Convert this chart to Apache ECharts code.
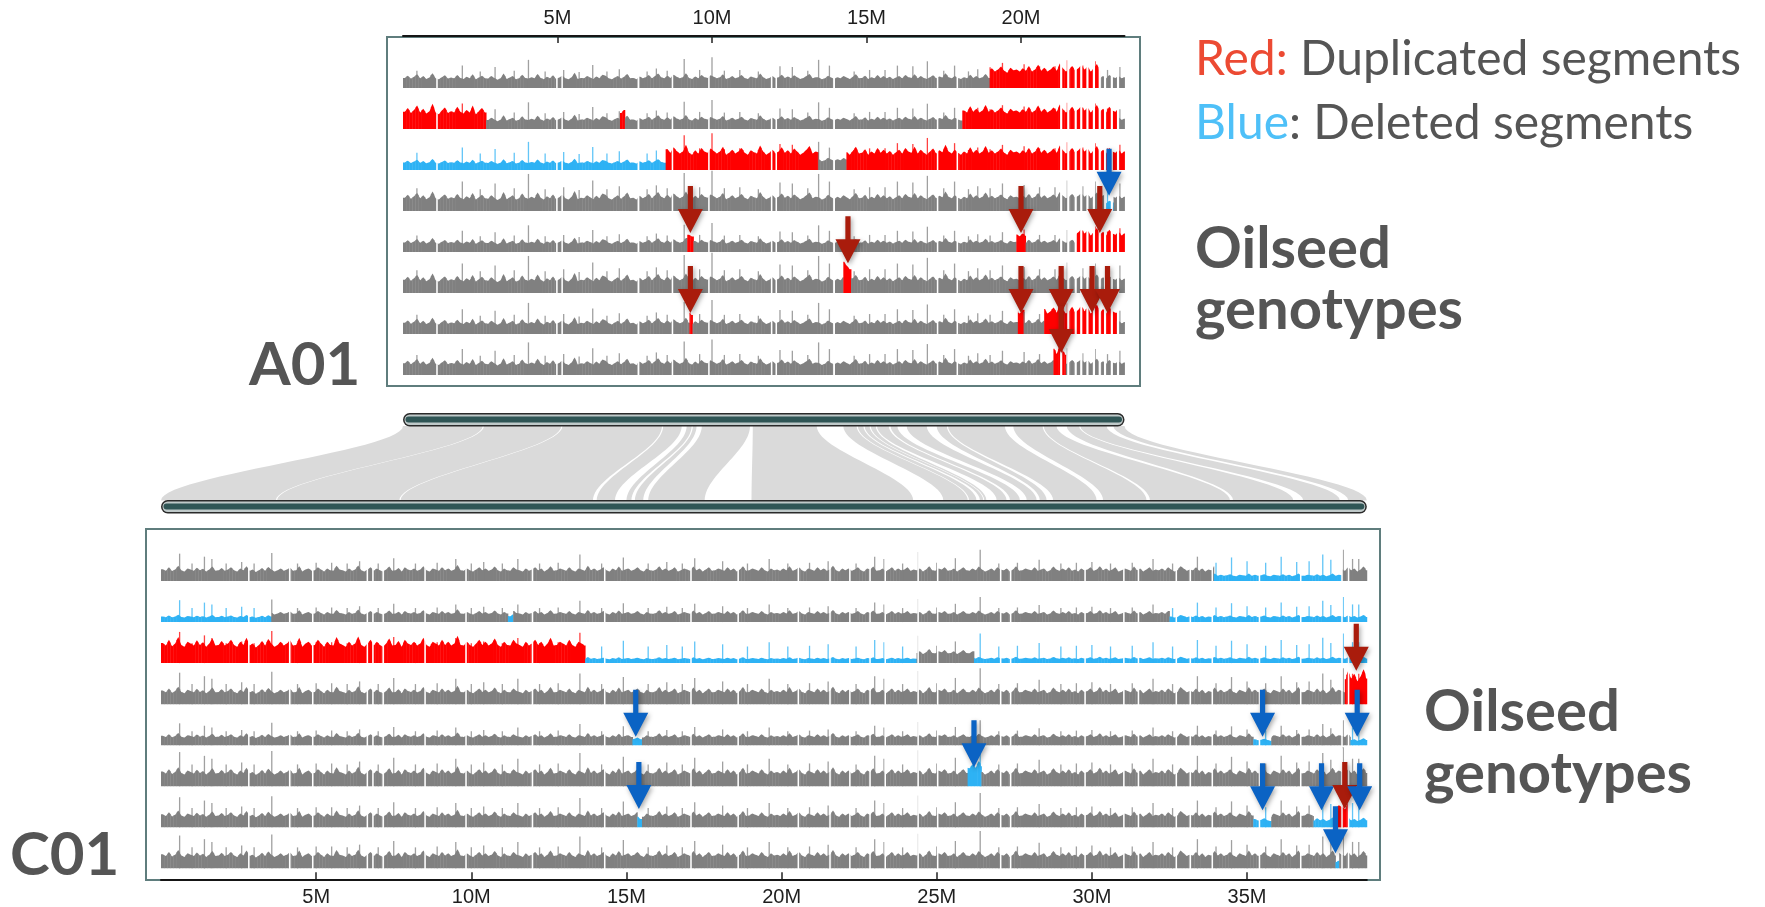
<!DOCTYPE html>
<html>
<head>
<meta charset="utf-8">
<script src="https://cdn.jsdelivr.net/npm/echarts@6/dist/echarts.min.js"></script>
<style>
  html, body { margin: 0; padding: 0; background: #ffffff; }
  #chart { width: 1765px; height: 907px; }
</style>
</head>
<body>
<div id="chart"></div>
<script>
// Chromosome lengths in Mb and bin size of the coverage profiles
const A01_LEN = 23.35;
const C01_LEN = 38.86;
const BIN = 0.1;

const A01_TICKS = [5, 10, 15, 20];
const C01_TICKS = [5, 10, 15, 20, 25, 30, 35];

// Read-depth profile along A01 (one value per 0.1 Mb bin)
const A01_PROFILE = [
  28,34,26,31,38,27,33,25,29,41,27,24,30,35,26,29,27,36,28,25,
  31,27,38,24,29,34,27,26,33,28,23,27,40,25,29,33,24,27,37,28,
  26,30,27,39,28,24,31,27,35,25,29,34,27,24,30,42,25,28,27,33,
  29,25,32,27,37,34,27,24,29,33,26,31,39,27,28,24,32,27,30,36,
  27,33,40,30,27,34,28,37,31,27,30,41,28,25,32,27,36,30,28,35,
  31,27,30,38,25,28,33,27,30,36,28,25,32,29,27,40,30,25,28,33,
  27,30,37,28,32,27,35,30,25,28,33,39,27,30,29,24,27,34,29,25,
  30,27,33,29,25,31,38,27,28,34,25,30,27,36,28,33,27,31,25,29,
  33,27,36,30,28,38,27,33,28,25,30,35,27,32,29,41,30,27,33,28,
  25,30,27,37,28,33,27,30,39,28,32,27,30,35,28,25,33,29,30,27,
  32,28,36,27,30,38,28,33,27,30,35,28,40,32,27,30,36,28,32,37,
  30,35,27,32,39,28,33,27,36,30,28,33,27,30
];

// Read-depth profile along C01 (one value per 0.1 Mb bin)
const C01_PROFILE = [
  31,27,36,26,30,40,28,25,33,30,27,35,28,32,25,30,38,27,28,34,
  27,30,36,28,25,33,28,39,27,30,24,28,34,27,37,30,25,28,33,27,
  30,35,27,28,39,25,30,33,27,28,36,30,25,33,28,27,40,30,28,25,
  33,27,30,41,28,25,30,36,27,33,28,25,30,38,27,28,34,25,36,30,
  28,33,27,30,39,28,25,33,30,27,36,28,33,27,30,42,28,27,33,28,
  25,30,36,28,33,27,30,38,28,25,33,28,27,36,30,28,25,33,27,30,
  36,28,33,25,30,39,27,28,33,30,27,36,28,25,33,30,27,40,28,33,
  27,30,36,28,25,33,28,38,27,30,33,27,30,36,28,25,33,28,27,30,
  39,28,33,27,30,36,25,28,33,30,27,38,28,33,25,30,36,27,28,33,
  30,27,36,28,33,25,30,39,27,28,33,30,27,36,28,25,33,28,30,27,
  33,28,39,27,30,36,28,25,33,30,27,36,28,33,27,30,40,28,25,33,
  28,33,27,30,36,28,25,33,30,38,27,28,33,25,30,36,27,33,28,30,
  36,27,30,28,33,25,30,39,28,27,33,30,36,27,28,33,25,30,36,28,
  27,33,28,38,30,25,28,33,27,36,30,28,33,25,30,39,27,28,33,30,
  28,36,27,30,33,25,28,38,30,27,33,28,36,27,30,25,33,28,30,36,
  27,30,39,28,33,27,30,36,25,28,33,30,27,38,28,33,25,30,36,27,
  30,28,33,27,36,30,25,28,39,33,27,30,28,36,27,33,25,30,28,38,
  28,33,27,30,36,28,25,33,30,27,39,28,33,27,30,36,28,25,33,30,
  27,36,28,33,25,30,39,27,28,33,30,27,36,28,33,25,30,39,28,33,
  30,27,36,28,33,25,30,38,28
];

// Repeat peaks shared by all samples: [position Mb, depth]
const A01_SPIKES = [
  [0.45,48],[1.92,62],[2.5,46],[2.98,58],[3.6,48],[4.06,78],[4.6,46],[5.2,50],[5.7,44],
  [6.14,64],[6.6,46],[7.0,52],[7.9,46],[8.2,54],[8.55,48],[9.1,80],[9.6,50],[10.0,85],
  [10.4,48],[10.9,50],[11.5,46],[12.2,60],[12.6,58],[13.1,48],[13.45,78],[13.8,62],
  [14.6,46],[15.1,50],[15.6,50],[16.0,62],[16.5,60],[16.97,74],[17.5,48],[17.85,62],
  [18.3,46],[18.6,52],[19.0,48],[19.4,58],[20.1,55],[20.6,50],[21.1,50],[21.5,64],
  [22.0,52],[22.4,62],[22.8,50],[23.2,58]
];
const C01_SPIKES = [
  [0.6,72],[1.0,46],[1.4,64],[1.64,58],[2.1,46],[2.6,50],[3.0,46],[3.57,74],[4.4,46],
  [5.0,48],[5.5,48],[6.0,46],[6.4,52],[7.0,46],[7.5,60],[8.2,46],[8.9,48],[9.5,58],
  [10.0,46],[10.4,50],[11.0,46],[11.5,58],[12.2,46],[12.8,48],[13.5,70],[14.2,46],
  [14.9,62],[15.7,46],[16.3,50],[16.8,46],[17.2,60],[18.1,52],[18.9,46],[19.6,58],
  [20.2,46],[20.9,48],[21.5,52],[22.4,46],[23.0,64],[23.3,58],[23.9,46],[24.4,76],
  [25.0,48],[25.6,60],[26.4,82],[27.0,46],[27.6,48],[28.3,56],[29.0,46],[29.5,48],
  [30.0,50],[30.6,46],[31.3,48],[31.97,58],[32.6,46],[33.4,64],[34.0,48],[34.5,62],
  [35.0,52],[35.6,48],[36.1,64],[36.6,50],[37.0,52],[37.44,70],[37.7,56],[38.1,82],
  [38.4,58],[38.6,58]
];

// Assembly gaps: [position Mb, width Mb]
const A01_GAPS = [
  [1.1,.05],[4.98,.05],[5.15,.05],[7.62,.06],[8.72,.05],[9.9,.05],[11.93,.05],[12.08,.05],
  [13.95,.06],[17.3,.05],[17.94,.05],[21.3,.07],[21.53,.07],[21.77,.07],[21.95,.07],
  [22.15,.07],[22.36,.07],[22.55,.07],[22.72,.07],[22.94,.07],[23.14,.07]
];
const C01_GAPS = [
  [2.83,.05],[4.15,.05],[4.89,.05],[6.65,.05],[6.83,.05],[7.16,.05],[8.51,.05],[9.83,.05],
  [11.97,.05],[14.3,.05],[17.08,.05],[18.6,.05],[20.54,.05],[21.56,.05],[22.2,.05],
  [22.85,.05],[23.34,.05],[24.4,.05],[25.03,.05],[27.06,.05],[27.38,.05],[29.78,.05],
  [31.03,.05],[31.5,.05],[32.72,.05],[33.17,.05],[33.88,.05],[35.4,.05],[36.73,.05],
  [38.06,.05],[38.27,.05]
];

// Relative depth of each of the 8 genotypes
const A01_GAIN = [0.95, 0.9, 0.95, 1.25, 0.9, 1.25, 1.05, 1.1];
const C01_GAIN = [1.0, 0.8, 0.95, 1.15, 0.8, 1.25, 1.1, 1.2];

// Copy-number segments: [genotype, start Mb, end Mb, kind (1 duplicated, 2 deleted), depth ratio]
const A01_SEGMENTS = [
  [0, 19.0, 22.55, 1, 1.7],
  [1, 0.0, 2.69, 1, 1.8],
  [1, 7.02, 7.18, 1, 1.8],
  [1, 18.1, 23.15, 1, 1.8],
  [2, 0.0, 8.5, 2, 0.75],
  [2, 8.5, 13.45, 1, 1.7],
  [2, 14.35, 23.35, 1, 1.7],
  [3, 22.7, 23.0, 2, 0.6],
  [4, 9.2, 9.4, 1, 1.8],
  [4, 19.85, 20.15, 1, 1.7],
  [4, 21.75, 23.35, 1, 1.8],
  [5, 14.25, 14.5, 1, 2.0],
  [6, 9.27, 9.37, 1, 1.9],
  [6, 19.9, 20.1, 1, 1.9],
  [6, 20.75, 23.1, 1, 1.9],
  [7, 21.05, 21.45, 1, 1.8]
];
const C01_SEGMENTS = [
  [0, 33.93, 38.06, 2, 0.5],
  [1, 0.0, 3.57, 2, 0.6],
  [1, 11.18, 11.35, 2, 0.7],
  [1, 32.5, 38.86, 2, 0.6],
  [2, 0.0, 13.67, 1, 1.8],
  [2, 13.67, 24.35, 2, 0.42],
  [2, 26.2, 38.86, 2, 0.45],
  [3, 38.15, 38.86, 1, 2.1],
  [4, 15.2, 15.5, 2, 0.7],
  [4, 35.2, 35.78, 2, 0.6],
  [4, 38.33, 38.86, 2, 0.6],
  [5, 26.0, 26.44, 2, 1.4],
  [6, 15.35, 15.5, 2, 0.7],
  [6, 35.2, 35.78, 2, 0.6],
  [6, 37.14, 37.88, 2, 0.6],
  [6, 37.88, 38.27, 1, 1.6],
  [6, 38.27, 38.86, 2, 0.6],
  [7, 37.85, 37.97, 2, 0.5]
];

// Highlighted events: [genotype, position Mb, kind, arrow tip depth]
const A01_ARROWS = [
  [3, 22.85, 2, 40],
  [4, 9.3, 1, 50], [4, 20.0, 1, 50], [4, 22.55, 1, 50],
  [5, 14.4, 1, 78],
  [6, 9.3, 1, 55], [6, 20.0, 1, 55], [6, 21.3, 1, 55], [6, 22.3, 1, 55], [6, 22.8, 1, 55],
  [7, 21.3, 1, 58]
];
const C01_ARROWS = [
  [3, 38.52, 1, 88],
  [4, 15.3, 2, 22], [4, 35.5, 2, 22], [4, 38.55, 2, 22],
  [5, 26.2, 2, 50],
  [6, 15.4, 2, 48], [6, 35.5, 2, 45], [6, 37.4, 2, 45], [6, 38.15, 1, 48], [6, 38.63, 2, 45],
  [7, 37.85, 2, 40]
];

// Collinear blocks between A01 and C01: [A01 start, A01 end, C01 start, C01 end]
const SYNTENY = [
  [0.00, 2.58, 0.00, 3.70],
  [2.62, 5.12, 3.74, 7.68],
  [5.16, 8.38, 7.72, 13.92],
  [8.42, 9.02, 14.04, 14.63],
  [9.18, 9.34, 15.00, 15.16],
  [9.38, 9.50, 15.27, 15.54],
  [9.67, 11.23, 15.70, 17.52],
  [11.32, 13.39, 19.03, 24.24],
  [14.25, 14.68, 25.21, 26.00],
  [14.72, 14.90, 26.04, 26.28],
  [14.94, 15.10, 26.39, 26.50],
  [15.14, 15.30, 26.53, 26.60],
  [15.34, 15.72, 26.93, 27.25],
  [15.78, 16.00, 27.36, 27.68],
  [16.30, 16.95, 27.90, 28.22],
  [17.27, 17.60, 28.32, 28.54],
  [17.64, 19.48, 28.75, 30.15],
  [19.75, 20.70, 30.36, 31.76],
  [20.74, 21.15, 31.87, 34.45],
  [21.48, 21.88, 34.55, 36.49],
  [21.92, 22.77, 36.81, 37.99],
  [22.99, 23.35, 38.26, 38.86]
];

// ---------------------------------------------------------------------------
const FILL = ['#808080', '#ff0000', '#2eb2f4'];
const ARROW_FILL = { 1: '#a91c0c', 2: '#0b63c4' };
const TEXT_GREY = '#555555';

const LAYOUT_A = { left: 403, pxPerMb: 30.9, base0: 88, step: 41 };
const LAYOUT_C = { left: 161, pxPerMb: 31.03, base0: 581, step: 41.05 };
const TRACK_H = 38;

function segInfo(segs, t, x) {
  for (const s of segs) {
    if (s[0] === t && x >= s[1] && x < s[2]) return [s[3], s[4]];
  }
  return [0, 1];
}

// Split each bin at segment borders so colours follow the segments exactly.
// Item: [start, end, depth, kind, isPeak, previous depth, next depth]
function trackItems(profile, len, segs, spikes, gain, t) {
  const bounds = [];
  segs.forEach(s => { if (s[0] === t) bounds.push(s[1], s[2]); });
  const body = [];
  profile.forEach((val, i) => {
    const s = i * BIN;
    if (s >= len) return;
    const e = Math.min(len, s + BIN);
    const pts = [s].concat(bounds.filter(b => b > s && b < e).sort((a, b) => a - b), [e]);
    for (let j = 0; j < pts.length - 1; j++) {
      const info = segInfo(segs, t, (pts[j] + pts[j + 1]) / 2);
      body.push([pts[j], pts[j + 1], val * gain * info[1], info[0], 0]);
    }
  });
  body.forEach((it, k) => {
    const prev = k > 0 ? body[k - 1] : it;
    const next = k < body.length - 1 ? body[k + 1] : it;
    it.push(prev[3] === it[3] ? prev[2] : it[2], next[3] === it[3] ? next[2] : it[2]);
  });
  const peaks = spikes.map(sp => {
    const info = segInfo(segs, t, sp[0]);
    return [sp[0], sp[0], sp[1] * gain * (info[0] === 1 ? 1.2 : 1), info[0], 1, 0, 0];
  });
  return body.concat(peaks);
}

function renderBody(params, api) {
  const a = api.value(0), b = api.value(1), v = api.value(2);
  const kind = api.value(3), spike = api.value(4);
  const base = api.coord([a, 0]);
  const end = api.coord([b, v]);
  if (spike) {
    return {
      type: 'rect',
      shape: { x: base[0] - 0.65, y: end[1], width: 1.3, height: base[1] - end[1] },
      style: { fill: FILL[kind], opacity: 0.75 }
    };
  }
  const yL = api.coord([a, (api.value(5) + v) / 2])[1];
  const yR = api.coord([a, (api.value(6) + v) / 2])[1];
  const x0 = base[0], x1 = end[0] + 0.4;
  return {
    type: 'polygon',
    shape: { points: [[x0, base[1]], [x0, yL], [(x0 + x1) / 2, end[1]], [x1, yR], [x1, base[1]]] },
    style: { fill: FILL[kind] }
  };
}

function renderGap(params, api) {
  const pos = api.value(0), w = api.value(1);
  const p0 = api.coord([pos - w / 2, 0]);
  const p1 = api.coord([pos + w / 2, 100]);
  return {
    type: 'rect',
    shape: { x: p0[0], y: p1[1], width: Math.max(1.4, p1[0] - p0[0]), height: p0[1] - p1[1] + 1 },
    style: { fill: '#ffffff' }
  };
}

function renderArrow(params, api) {
  const p = api.coord([api.value(0), api.value(1)]);
  const x = p[0], y = p[1];
  const L = 47, HL = 24, HW = 12.5, SW = 2.6;
  return {
    type: 'polygon',
    shape: { points: [[x - SW, y - L], [x + SW, y - L], [x + SW, y - HL], [x + HW, y - HL],
                      [x, y], [x - HW, y - HL], [x - SW, y - HL]] },
    style: {
      fill: ARROW_FILL[api.value(2)],
      shadowBlur: 5, shadowColor: 'rgba(0,0,0,0.35)', shadowOffsetX: 1.5, shadowOffsetY: 2
    }
  };
}

const grids = [], xAxes = [], yAxes = [], series = [];

function addChromosome(lay, len, profile, segs, spikes, gaps, arrows, gains) {
  const width = len * lay.pxPerMb;
  for (let t = 0; t < 8; t++) {
    const gi = grids.length;
    const baseline = lay.base0 + lay.step * t;
    grids.push({ left: lay.left, top: baseline - TRACK_H, width: width, height: TRACK_H });
    xAxes.push({ type: 'value', gridIndex: gi, min: 0, max: len, show: false });
    yAxes.push({ type: 'value', gridIndex: gi, min: 0, max: 100, show: false });
    const common = { type: 'custom', xAxisIndex: gi, yAxisIndex: gi, silent: true, animation: false };
    series.push(Object.assign({}, common, {
      z: 2, renderItem: renderBody, data: trackItems(profile, len, segs, spikes, gains[t], t)
    }));
    series.push(Object.assign({}, common, {
      z: 3, renderItem: renderGap, data: gaps.map(g => [g[0], g[1]])
    }));
    series.push(Object.assign({}, common, {
      z: 10 + t, renderItem: renderArrow,
      data: arrows.filter(a => a[0] === t).map(a => [a[1], a[3], a[2]])
    }));
  }
  return width;
}

function addScaleAxis(lay, len, ticks, top, position) {
  const gi = grids.length;
  grids.push({ left: lay.left, top: top, width: len * lay.pxPerMb, height: 1 });
  xAxes.push({
    type: 'value', gridIndex: gi, min: 0, max: len, position: position,
    axisLine: { show: true, onZero: false, lineStyle: { color: '#151515', width: 2 } },
    axisTick: { show: true, inside: true, length: 7, customValues: ticks,
                lineStyle: { color: '#222222', width: 1.5 } },
    axisLabel: { show: true, customValues: ticks, formatter: v => v + 'M', margin: 8,
                 fontSize: 20, color: '#1e1e1e', fontFamily: 'Liberation Sans, Arial, sans-serif' },
    splitLine: { show: false }
  });
  yAxes.push({ type: 'value', gridIndex: gi, min: 0, max: 1, show: false });
  return gi;
}

addChromosome(LAYOUT_A, A01_LEN, A01_PROFILE, A01_SEGMENTS, A01_SPIKES, A01_GAPS, A01_ARROWS, A01_GAIN);
const A_AXIS = addScaleAxis(LAYOUT_A, A01_LEN, A01_TICKS, 36, 'top');
addChromosome(LAYOUT_C, C01_LEN, C01_PROFILE, C01_SEGMENTS, C01_SPIKES, C01_GAPS, C01_ARROWS, C01_GAIN);
const C_AXIS = addScaleAxis(LAYOUT_C, C01_LEN, C01_TICKS, 879, 'bottom');

const chart = echarts.init(document.getElementById('chart'), null, { renderer: 'canvas' });
chart.setOption({
  animation: false,
  backgroundColor: '#ffffff',
  grid: grids,
  xAxis: xAxes,
  yAxis: yAxes,
  series: series
});

// ---- chromosome bars, synteny ribbons, frames and labels -------------------
const ax = v => chart.convertToPixel({ xAxisIndex: A_AXIS }, v);
const cx = v => chart.convertToPixel({ xAxisIndex: C_AXIS }, v);

const A_BAR_Y = 413, C_BAR_Y = 500, BAR_H = 13.5;
const RIB_TOP = A_BAR_Y + BAR_H - 0.5, RIB_BOT = C_BAR_Y + 0.5;

function cubic(p0, p1, p2, p3, t) {
  const u = 1 - t;
  return u * u * u * p0 + 3 * u * u * t * p1 + 3 * u * t * t * p2 + t * t * t * p3;
}

function ribbon(a0, a1, c0, c1) {
  const pts = [], N = 28, d = (RIB_BOT - RIB_TOP) / 3;
  for (let i = 0; i <= N; i++) {
    const t = i / N;
    pts.push([cubic(a1, a1, c1, c1, t), cubic(RIB_TOP, RIB_TOP + d, RIB_BOT - d, RIB_BOT, t)]);
  }
  for (let i = 0; i <= N; i++) {
    const t = i / N;
    pts.push([cubic(c0, c0, a0, a0, t), cubic(RIB_BOT, RIB_BOT - d, RIB_TOP + d, RIB_TOP, t)]);
  }
  return pts;
}

function chromBar(x0, x1, y) {
  const w = x1 - x0;
  return [
    { type: 'rect', z: 5, shape: { x: x0, y: y, width: w, height: BAR_H, r: BAR_H / 2 },
      style: { fill: '#2a2a2a' } },
    { type: 'rect', z: 6, shape: { x: x0 + 1.5, y: y + 1.5, width: w - 3, height: BAR_H - 3, r: (BAR_H - 3) / 2 },
      style: { fill: '#bfc9c9' } },
    { type: 'rect', z: 7, shape: { x: x0 + 2.5, y: y + 3.5, width: w - 5, height: 6, r: 3 },
      style: { fill: '#2f5555' } }
  ];
}

const elements = [];
SYNTENY.forEach(b => {
  elements.push({
    type: 'polygon', z: 1, silent: true,
    shape: { points: ribbon(ax(b[0]), ax(b[1]), cx(b[2]), cx(b[3])) },
    style: { fill: '#dadada' }
  });
});
chromBar(ax(0), ax(A01_LEN), A_BAR_Y).forEach(e => elements.push(e));
chromBar(cx(0), cx(C01_LEN), C_BAR_Y).forEach(e => elements.push(e));

// panel frames
elements.push({ type: 'rect', z: 0, shape: { x: 387, y: 37, width: 753, height: 349 },
  style: { fill: 'none', stroke: '#5f7d7d', lineWidth: 2 } });
elements.push({ type: 'rect', z: 0, shape: { x: 146, y: 529, width: 1234, height: 351 },
  style: { fill: 'none', stroke: '#5f7d7d', lineWidth: 2 } });

function label(text, x, y, size, weight, rich) {
  const style = {
    text: text, x: x, y: y, fill: TEXT_GREY,
    font: weight + ' ' + size + 'px Lato, "Open Sans", sans-serif',
    align: 'left', verticalAlign: 'middle'
  };
  if (rich) style.rich = rich;
  return { type: 'text', z: 20, style: style };
}

elements.push(label('A01', 249, 366, 60, 'bold'));
elements.push(label('C01', 10, 856, 60, 'bold'));
elements.push(label('{r|Red:} Duplicated segments', 1195, 60, 48, 'normal', {
  r: { fill: '#ec4a33', fontSize: 48, fontFamily: 'Lato' }
}));
elements.push(label('{b|Blue}: Deleted segments', 1195, 124, 48, 'normal', {
  b: { fill: '#4ec0f8', fontSize: 48, fontFamily: 'Lato' }
}));
elements.push(label('Oilseed', 1195, 249, 58, 'bold'));
elements.push(label('genotypes', 1195, 310, 58, 'bold'));
elements.push(label('Oilseed', 1424, 712, 58, 'bold'));
elements.push(label('genotypes', 1424, 774, 58, 'bold'));

chart.setOption({ graphic: { elements: elements } });
</script>
</body>
</html>
